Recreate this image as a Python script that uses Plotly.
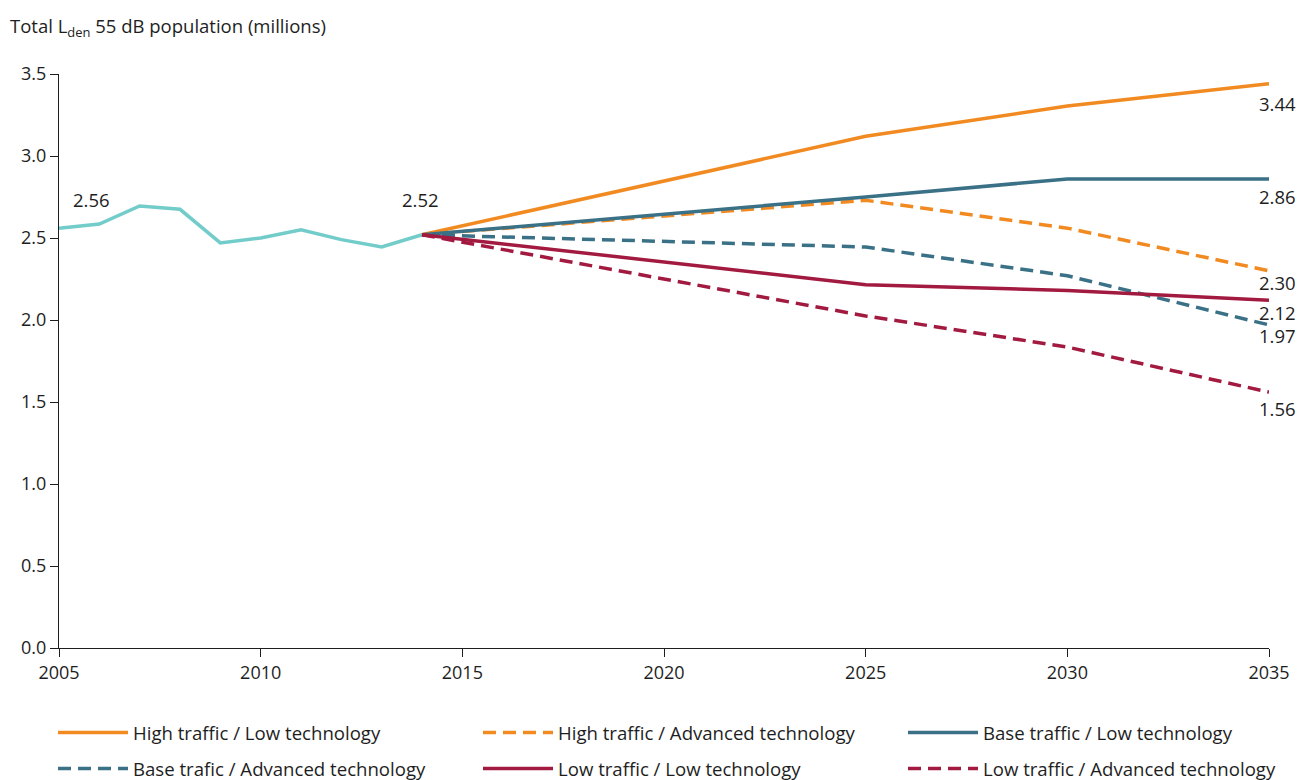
import plotly.graph_objects as go

hist_years = [2005, 2006, 2007, 2008, 2009, 2010, 2011, 2012, 2013, 2014]
hist_vals = [2.56, 2.585, 2.695, 2.675, 2.47, 2.50, 2.55, 2.49, 2.445, 2.52]

proj_years = [2014, 2025, 2030, 2035]
high_low = [2.52, 3.12, 3.305, 3.44]
high_adv = [2.52, 2.73, 2.56, 2.30]
base_low = [2.52, 2.75, 2.86, 2.86]
base_adv = [2.52, 2.445, 2.27, 1.97]
low_low = [2.52, 2.215, 2.18, 2.12]
low_adv = [2.52, 2.025, 1.835, 1.56]

series_names = ["High traffic / Low technology", "High traffic / Advanced technology",
                "Base traffic / Low technology", "Base trafic / Advanced technology",
                "Low traffic / Low technology", "Low traffic / Advanced technology"]
series_vals = [high_low, high_adv, base_low, base_adv, low_low, low_adv]
end_labels = ["3.44", "2.30", "2.86", "1.97", "2.12", "1.56"]

colors = ["#F28A22", "#F28A22", "#3A7186", "#3A7186", "#A21A40", "#A21A40"]
dashes = ["solid", "13px,7px", "solid", "13px,7px", "solid", "13px,7px"]
label_shift = [-20, -12, -18, -11, -12, -16]

# legend slots (pixel positions in the 1298x780 canvas)
leg_x_px = [53, 478, 903, 53, 478, 903]
leg_y_px = [733, 733, 733, 769, 769, 769]

TXT = "#1e1e1e"
FONT = "Open Sans"
W, H = 1298, 780

fig = go.Figure()
fig.add_trace(go.Scatter(x=hist_years, y=hist_vals, mode="lines",
                         line=dict(color="#72CCC9", width=3.5),
                         showlegend=False, hoverinfo="skip"))
legend_layout = {}
for i, (name, vals, c, d) in enumerate(zip(series_names, series_vals, colors, dashes)):
    lid = "legend" if i == 0 else f"legend{i + 1}"
    fig.add_trace(go.Scatter(x=proj_years, y=vals, mode="lines", name=name,
                             legend=lid, line=dict(color=c, width=3.5, dash=d)))
    legend_layout[lid] = dict(orientation="h", xref="container", yref="container",
                              x=leg_x_px[i] / W, xanchor="left",
                              y=(H - leg_y_px[i]) / H, yanchor="middle",
                              itemwidth=70, bgcolor="rgba(0,0,0,0)",
                              font=dict(size=18.6, color=TXT, family=FONT))

# point labels
fig.add_annotation(x=hist_years[0], y=hist_vals[0], text="2.56", showarrow=False,
                   xshift=32, yshift=29, font=dict(size=18.5, color=TXT))
fig.add_annotation(x=hist_years[-1], y=hist_vals[-1], text="2.52", showarrow=False,
                   xshift=-2, yshift=35, font=dict(size=18.5, color=TXT))
for vals, lab, ys in zip(series_vals, end_labels, label_shift):
    fig.add_annotation(x=proj_years[-1], y=vals[-1], text=lab, showarrow=False,
                       xanchor="left", xshift=-12, yshift=ys,
                       font=dict(size=18.5, color=TXT))

fig.add_annotation(xref="paper", yref="paper", x=-0.042, y=1.082,
                   xanchor="left", yanchor="middle",
                   text="Total L<sub>den</sub> 55 dB population (millions)",
                   showarrow=False, font=dict(size=18.5, color=TXT))

fig.update_layout(
    width=W, height=H,
    margin=dict(l=59, r=29, t=74, b=132, autoexpand=False),
    paper_bgcolor="white", plot_bgcolor="white",
    font=dict(family=FONT, size=18, color=TXT),
    xaxis=dict(range=[2005, 2035], tickvals=[2005, 2010, 2015, 2020, 2025, 2030, 2035],
               showgrid=False, zeroline=False, showline=True, linecolor=TXT, linewidth=1.3,
               ticks="outside", ticklen=8, tickcolor=TXT, tickwidth=1.3,
               tickfont=dict(size=18, color=TXT)),
    yaxis=dict(range=[0, 3.5], tickvals=[0, 0.5, 1, 1.5, 2, 2.5, 3, 3.5],
               tickformat=".1f", showgrid=False, zeroline=False, showline=True,
               linecolor=TXT, linewidth=1.3, ticks="outside", ticklen=8,
               tickcolor=TXT, tickwidth=1.3, tickfont=dict(size=18, color=TXT)),
    showlegend=True,
    **legend_layout,
)

fig.write_html("out.html", config={"displayModeBar": False},
               post_script="document.body.style.margin='0px';document.body.style.overflow='hidden';")
